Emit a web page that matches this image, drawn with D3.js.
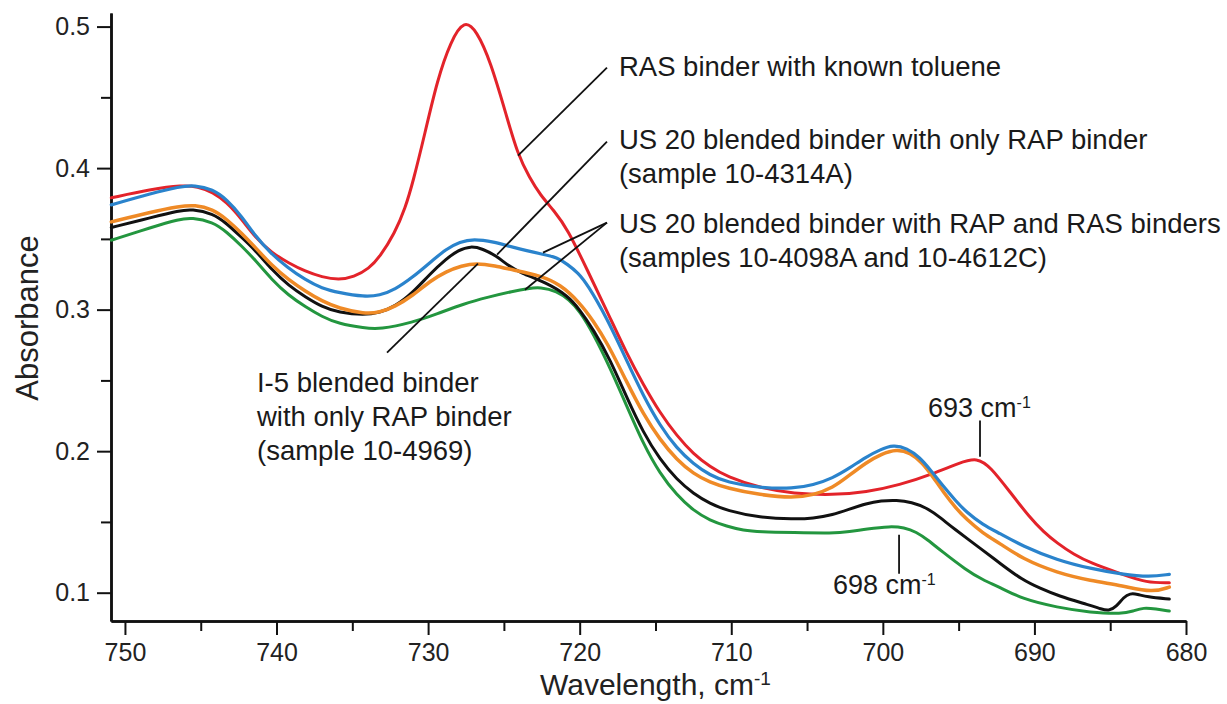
<!DOCTYPE html>
<html>
<head>
<meta charset="utf-8">
<script src="https://cdn.jsdelivr.net/npm/d3@7"></script>
<style>
  body { margin: 0; background: #fff; }
  svg { display: block; font-family: Arial, 'Liberation Sans', sans-serif; }
</style>
</head>
<body>
<div id="chart"></div>
<script>
// spectra: [wavenumber cm-1, absorbance]
const rasToluene = [
  [750.9, 0.379], [748.3, 0.385], [746.2, 0.388], [745.2, 0.387], [744.2, 0.383],
  [743.3, 0.376], [742.3, 0.364], [741.4, 0.351], [740.3, 0.340], [739.2, 0.333],
  [738.1, 0.327], [737.0, 0.323], [735.9, 0.321], [734.9, 0.323], [733.9, 0.329],
  [733.2, 0.337], [732.2, 0.354], [731.5, 0.372], [731.0, 0.390], [730.2, 0.425],
  [729.4, 0.462], [728.5, 0.490], [727.6, 0.505], [726.8, 0.497], [725.9, 0.476],
  [724.8, 0.436], [724.1, 0.410], [723.3, 0.393], [722.6, 0.381], [721.7, 0.370],
  [720.8, 0.357], [719.5, 0.328], [718.2, 0.299], [716.9, 0.269], [715.8, 0.247],
  [714.7, 0.227], [713.6, 0.211], [712.5, 0.198], [711.4, 0.189], [710.3, 0.182],
  [708.1, 0.174], [705.9, 0.170], [703.3, 0.169], [701.1, 0.171], [698.9, 0.176],
  [696.7, 0.184], [694.9, 0.192], [693.8, 0.1955], [692.9, 0.189], [691.6, 0.171],
  [690.3, 0.153], [689.4, 0.143], [688.5, 0.135], [687.4, 0.127], [686.3, 0.121],
  [684.2, 0.113], [682.6, 0.107], [681.1, 0.107]
]
const us20RapRasA = [
  [750.9, 0.374], [748.3, 0.382], [746.4, 0.387], [745.4, 0.388], [744.2, 0.385],
  [743.3, 0.378], [742.3, 0.366], [741.4, 0.352], [740.4, 0.340], [739.3, 0.330],
  [738.1, 0.321], [737.0, 0.315], [735.9, 0.312], [734.2, 0.309], [733.2, 0.310],
  [732.2, 0.314], [731.0, 0.323], [729.9, 0.333], [728.8, 0.343], [727.9, 0.348],
  [727.0, 0.350], [725.7, 0.348], [724.4, 0.344], [722.4, 0.339], [721.5, 0.337],
  [720.8, 0.332], [720.1, 0.326], [719.5, 0.318], [718.2, 0.294], [716.9, 0.264],
  [715.8, 0.239], [714.7, 0.218], [713.6, 0.202], [712.5, 0.191], [711.4, 0.183],
  [710.3, 0.178], [708.1, 0.174], [705.9, 0.1735], [704.6, 0.176], [703.3, 0.181],
  [702.2, 0.188], [701.1, 0.196], [700.2, 0.201], [699.3, 0.2045], [698.4, 0.202],
  [697.6, 0.196], [696.8, 0.186], [696.0, 0.175], [695.2, 0.165], [694.5, 0.157],
  [693.4, 0.148], [692.3, 0.142], [690.8, 0.133], [688.5, 0.123], [686.3, 0.117],
  [684.2, 0.113], [682.4, 0.111], [681.1, 0.113]
]
const i5OnlyRap = [
  [750.9, 0.362], [748.3, 0.369], [746.4, 0.373], [745.4, 0.374], [744.2, 0.371],
  [743.3, 0.364], [742.3, 0.354], [741.4, 0.344], [740.3, 0.331], [739.2, 0.321],
  [738.1, 0.313], [737.0, 0.306], [735.9, 0.301], [734.2, 0.297], [733.2, 0.298],
  [732.2, 0.302], [731.0, 0.310], [729.9, 0.320], [728.8, 0.327], [727.8, 0.331],
  [726.8, 0.333], [725.6, 0.331], [724.4, 0.328], [722.6, 0.324], [721.3, 0.318],
  [720.0, 0.305], [719.1, 0.292], [718.2, 0.277], [716.9, 0.249], [715.8, 0.226],
  [714.7, 0.208], [713.6, 0.194], [712.5, 0.184], [711.4, 0.178], [710.3, 0.174],
  [708.1, 0.169], [705.9, 0.167], [704.6, 0.169], [703.3, 0.174], [702.2, 0.183],
  [701.1, 0.192], [700.1, 0.198], [699.1, 0.2015], [698.2, 0.199], [697.4, 0.192],
  [696.7, 0.182], [696.0, 0.171], [695.2, 0.160], [694.5, 0.152], [693.4, 0.142],
  [692.3, 0.135], [690.8, 0.124], [688.5, 0.114], [686.3, 0.1085], [684.2, 0.105],
  [682.2, 0.100], [681.1, 0.104]
]
const us20OnlyRap = [
  [750.9, 0.358], [748.3, 0.365], [746.4, 0.370], [745.6, 0.371], [744.2, 0.368],
  [743.3, 0.361], [742.3, 0.351], [741.4, 0.342], [740.3, 0.328], [739.2, 0.317],
  [738.1, 0.309], [737.0, 0.302], [735.9, 0.298], [734.2, 0.296], [733.2, 0.298],
  [732.2, 0.302], [731.0, 0.312], [729.9, 0.325], [728.8, 0.336], [728.0, 0.342],
  [727.2, 0.345], [726.4, 0.343], [725.5, 0.338], [724.7, 0.331], [723.9, 0.326],
  [722.2, 0.319], [720.8, 0.310], [720.0, 0.300], [719.1, 0.286], [718.0, 0.265],
  [716.9, 0.238], [715.8, 0.213], [714.7, 0.194], [713.6, 0.180], [712.5, 0.170],
  [711.4, 0.163], [710.3, 0.158], [708.1, 0.153], [705.9, 0.152], [704.6, 0.1525],
  [703.3, 0.155], [702.2, 0.159], [701.1, 0.163], [700.1, 0.165], [699.1, 0.1655],
  [698.1, 0.164], [697.1, 0.160], [696.2, 0.153], [695.4, 0.146], [693.4, 0.130],
  [692.3, 0.121], [690.8, 0.109], [689.6, 0.103], [688.5, 0.098], [686.3, 0.091],
  [685.6, 0.0885], [685.1, 0.087], [684.6, 0.090], [684.1, 0.097], [683.7, 0.0995],
  [683.2, 0.099], [682.6, 0.097], [681.1, 0.0955]
]
const us20RapRasC = [
  [750.9, 0.349], [748.3, 0.358], [746.4, 0.364], [745.6, 0.365], [744.2, 0.362],
  [743.3, 0.355], [742.3, 0.345], [741.4, 0.335], [740.3, 0.321], [739.2, 0.310],
  [738.1, 0.302], [737.0, 0.295], [735.9, 0.290], [734.2, 0.287], [733.2, 0.286],
  [731.0, 0.291], [729.4, 0.297], [727.7, 0.304], [726.0, 0.309], [724.4, 0.313],
  [723.4, 0.315], [722.6, 0.316], [721.5, 0.313], [720.7, 0.307], [720.0, 0.299],
  [719.1, 0.283], [718.0, 0.259], [716.9, 0.232], [715.8, 0.205], [714.7, 0.184],
  [713.6, 0.169], [712.5, 0.158], [711.4, 0.151], [710.3, 0.147], [709.2, 0.144],
  [708.1, 0.143], [705.9, 0.1425], [703.3, 0.142], [702.2, 0.143], [701.1, 0.145],
  [699.5, 0.147], [698.6, 0.146], [697.8, 0.143], [697.0, 0.137], [696.2, 0.130],
  [694.5, 0.116], [693.4, 0.109], [692.3, 0.104], [690.8, 0.0955], [688.5, 0.0896],
  [686.3, 0.086], [684.2, 0.085], [683.5, 0.087], [682.8, 0.0895], [682.0, 0.0885],
  [681.1, 0.087]
]

const xMajor = [750, 740, 730, 720, 710, 700, 690, 680]
const xMinor = [745, 735, 725, 715, 705, 695, 685]
const yMajor = [0.1, 0.2, 0.3, 0.4, 0.5]
const yMinor = [0.15, 0.25, 0.35, 0.45]

const width = 1227
const height = 704
const margin = {top: 13, right: 41, bottom: 83, left: 111}

const x = d3.scaleLinear()
  .domain([750.92, 680])
  .range([margin.left, width - margin.right])
const y = d3.scaleLinear()
  .domain([0.08, 0.5096])
  .range([height - margin.bottom, margin.top])

const svg = d3.select('#chart').append('svg')
  .attr('width', width)
  .attr('height', height)

// minor ticks first, majors + labels on top
svg.append('g')
  .attr('transform', `translate(0, ${height - margin.bottom})`)
  .call(d3.axisBottom(x).tickValues(xMinor).tickSize(10).tickSizeOuter(0).tickFormat(''))
svg.append('g')
  .attr('transform', `translate(${margin.left}, 0)`)
  .call(d3.axisLeft(y).tickValues(yMinor).tickSize(10).tickSizeOuter(0).tickFormat(''))

svg.append('g')
  .attr('transform', `translate(0, ${height - margin.bottom})`)
  .call(d3.axisBottom(x).tickValues(xMajor).tickSize(14).tickSizeOuter(0).tickPadding(8))
svg.append('g')
  .attr('transform', `translate(${margin.left}, 0)`)
  .call(d3.axisLeft(y).tickValues(yMajor).tickSize(14).tickSizeOuter(0).tickPadding(7)
    .tickFormat(d3.format('.1f')))

svg.selectAll('.tick line').attr('stroke', '#111').attr('stroke-width', 2)
svg.selectAll('.domain').attr('stroke', '#111').attr('stroke-width', 2.5)
svg.selectAll('.tick text').attr('fill', '#222').style('font-size', '25px')
  .style('font-family', "Arial, 'Liberation Sans', sans-serif")

// axis titles
svg.append('text')
  .attr('transform', `translate(38, ${(margin.top + height - margin.bottom) / 2 + 1}) rotate(-90)`)
  .attr('text-anchor', 'middle')
  .attr('fill', '#222')
  .style('font-size', '31px')
  .text('Absorbance')

const xTitle = svg.append('text')
  .attr('x', 540)
  .attr('y', 695)
  .attr('fill', '#222')
  .style('font-size', '30px')
xTitle.append('tspan').text('Wavelength, cm')
xTitle.append('tspan').attr('dy', '-0.55em').style('font-size', '19px').text('-1')

// spectra
const line = d3.line()
  .x(d => x(d[0]))
  .y(d => y(d[1]))
  .curve(d3.curveBasis)

const series = [
  {data: us20RapRasC, color: '#23963f', w: 3},
  {data: rasToluene, color: '#e3232a', w: 3},
  {data: us20OnlyRap, color: '#111111', w: 3},
  {data: i5OnlyRap, color: '#ef8a26', w: 3.5},
  {data: us20RapRasA, color: '#2a83cc', w: 3.2}
]

svg.append('g').selectAll('path').data(series)
  .enter().append('path')
  .attr('d', d => line(d.data))
  .attr('fill', 'none')
  .attr('stroke', d => d.color)
  .attr('stroke-width', d => d.w)
  .attr('stroke-linejoin', 'round')
  .attr('stroke-linecap', 'round')

// leader lines, in data units
const leaders = [
  [[724.07, 0.4088], [718.20, 0.4710]],
  [[725.45, 0.3389], [718.20, 0.4187]],
  [[722.42, 0.3403], [718.20, 0.3615]],
  [[723.61, 0.3141], [718.20, 0.3615]],
  [[732.71, 0.2696], [726.71, 0.3325]],
  [[693.59, 0.2216], [693.59, 0.1961]],
  [[698.93, 0.1410], [698.93, 0.1134]]
]
svg.append('g').selectAll('line').data(leaders)
  .enter().append('line')
  .attr('x1', d => x(d[0][0]))
  .attr('y1', d => y(d[0][1]))
  .attr('x2', d => x(d[1][0]))
  .attr('y2', d => y(d[1][1]))
  .attr('stroke', '#111')
  .attr('stroke-width', 1.8)

const notes = [
  {at: [717.41, 0.4654], lines: ['RAS binder with known toluene']},
  {at: [717.41, 0.4138], lines: ['US 20 blended binder with only RAP binder', '(sample 10-4314A)']},
  {at: [717.41, 0.3544], lines: ['US 20 blended binder with RAP and RAS binders', '(samples 10-4098A and 10-4612C)']},
  {at: [741.29, 0.2420], lines: ['I-5 blended binder', 'with only RAP binder', '(sample 10-4969)']}
]
const noteG = svg.append('g').selectAll('text').data(notes)
  .enter().append('text')
  .attr('x', d => x(d.at[0]))
  .attr('y', d => y(d.at[1]))
  .attr('fill', '#1a1a1a')
  .style('font-size', '27.5px')
noteG.selectAll('tspan').data(d => d.lines.map((t, i) => ({t, i, x: x(d.at[0])})))
  .enter().append('tspan')
  .attr('x', d => d.x)
  .attr('dy', d => d.i === 0 ? 0 : 34)
  .text(d => d.t)

const peaks = [
  {at: [697.02, 0.2244], label: '693 cm'},
  {at: [703.29, 0.0993], label: '698 cm'}
]
const peakText = svg.append('g').selectAll('text').data(peaks)
  .enter().append('text')
  .attr('x', d => x(d.at[0]))
  .attr('y', d => y(d.at[1]))
  .attr('fill', '#1a1a1a')
  .style('font-size', '27px')
peakText.append('tspan').text(d => d.label)
peakText.append('tspan').attr('dy', '-0.55em').style('font-size', '16px').text('-1')
</script>
</body>
</html>
